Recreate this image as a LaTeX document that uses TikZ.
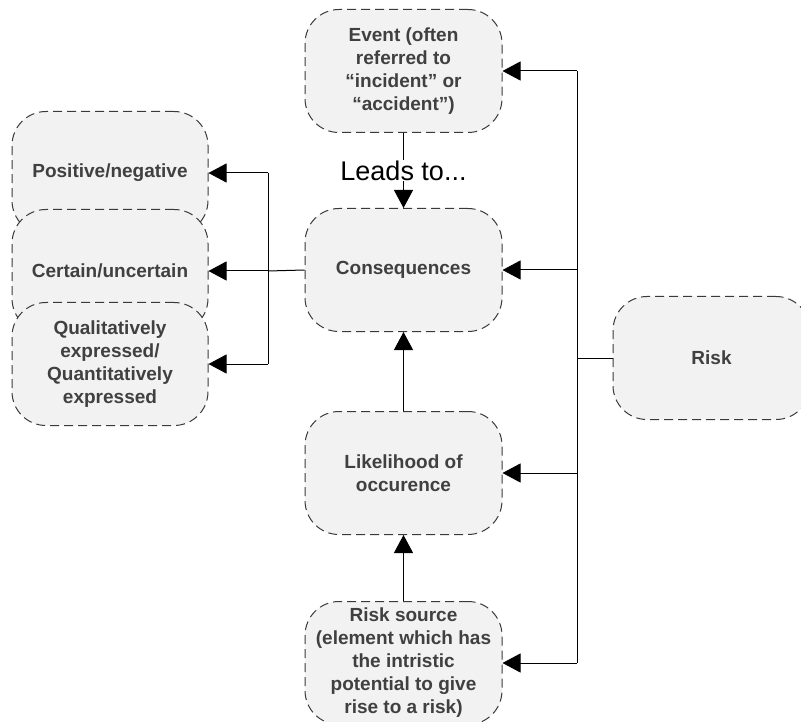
\documentclass[tikz,border=0pt]{standalone}
\usepackage{fontspec}
\setmainfont{Liberation Sans}
\usetikzlibrary{arrows.meta}
\definecolor{boxfill}{HTML}{F2F2F2}
\definecolor{boxline}{HTML}{3A3A3A}
\definecolor{boxtext}{HTML}{404040}
\begin{document}
\begin{tikzpicture}[x=1pt,y=-1pt,
  riskbox/.style={draw=boxline, fill=boxfill, dash pattern=on 9pt off 5pt,
    line width=1pt, rounded corners=34pt, minimum width=197pt,
    minimum height=123pt, align=center, text=boxtext, inner sep=2pt,
    font=\fontsize{19}{23}\selectfont\bfseries},
  link/.style={line width=1pt, draw=black},
  tip/.style={-{Triangle[length=18pt,width=19pt]}}]
\useasboundingbox (0,0) rectangle (801,722);

% central column
\node[riskbox] (event) at (403.5,71) {Event (often\\referred to\\“incident” or\\“accident”)};
\node[riskbox] (cons) at (403.5,270) {Consequences};
\node[riskbox] (like) at (403.5,473) {Likelihood of\\occurence};
\node[riskbox] (src) at (403.5,663) {Risk source\\(element which has\\the intristic\\potential to give\\rise to a risk)};

% properties of consequences, stacked and overlapping
\node[riskbox, minimum width=196pt] (pos) at (110,173) {Positive/negative};
\node[riskbox, minimum width=196pt] (cert) at (110,271) {Certain/uncertain};
\node[riskbox, minimum width=196pt] (qual) at (110,364) {Qualitatively\\expressed/\\Quantitatively\\expressed};

% risk
\node[riskbox] (risk) at (711.5,358) {Risk};

% bus coordinates
\coordinate (rbus) at (577,358);
\coordinate (lbus) at (268,271);

% event leads to consequences
\draw[link, tip] (event) -- node[fill=white, inner sep=1pt, text=black,
  font=\fontsize{27}{30}\selectfont] {Leads to...} (cons);
\draw[link, tip] (like) -- (cons);
\draw[link, tip] (src) -- (like);

% risk to its elements
\draw[link] (risk.west) -- (rbus);
\draw[link] (rbus |- event) -- (rbus |- src);
\draw[link, tip] (rbus |- event) -- (event.east);
\draw[link, tip] (rbus |- cons) -- (cons.east);
\draw[link, tip] (rbus |- like) -- (like.east);
\draw[link, tip] (rbus |- src) -- (src.east);

% consequences to its properties
\draw[link] (cons.west) -- (lbus);
\draw[link] (lbus |- pos) -- (lbus |- qual);
\draw[link, tip] (lbus |- pos) -- (pos.east);
\draw[link, tip] (lbus |- cert) -- (cert.east);
\draw[link, tip] (lbus |- qual) -- (qual.east);
\end{tikzpicture}
\end{document}
